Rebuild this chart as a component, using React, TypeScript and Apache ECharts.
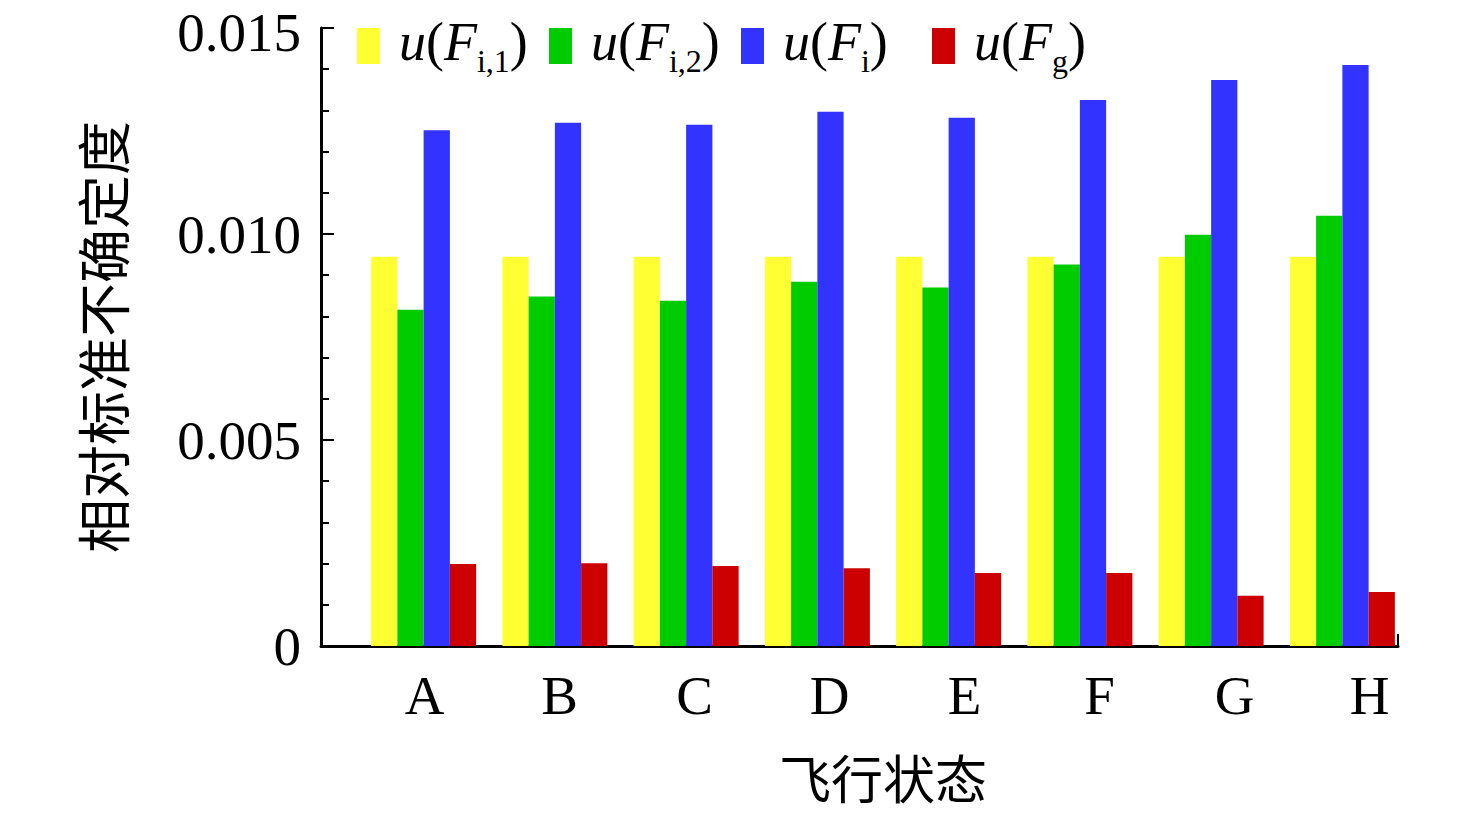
import React, { useEffect, useRef } from "react";
import * as echarts from "echarts";

const categories = ["A", "B", "C", "D", "E", "F", "G", "H"];
const uFi1 = [0.00945, 0.00945, 0.00945, 0.00945, 0.00945, 0.00945, 0.00945, 0.00945];
const uFi2 = [0.00816, 0.00848, 0.00838, 0.00884, 0.0087, 0.00926, 0.00998, 0.01044];
const uFi = [0.01252, 0.0127, 0.01265, 0.01297, 0.01282, 0.01325, 0.01374, 0.0141];
const uFg = [0.00199, 0.00201, 0.00194, 0.00189, 0.00177, 0.00177, 0.00122, 0.00131];
const yMin = 0;
const yMax = 0.015;
const yInterval = 0.005;

const seriesNames = ["u(Fi,1)", "u(Fi,2)", "u(Fi)", "u(Fg)"];
const seriesSubs = ["i,1", "i,2", "i", "g"];
const seriesColors = ["#FFFF33", "#00CC00", "#3333FF", "#CC0000"];
const seriesData = [uFi1, uFi2, uFi, uFg];

const SERIF = "'Times New Roman', 'Liberation Serif', 'DejaVu Serif', serif";
const CJK = "'Noto Sans CJK SC', 'Liberation Serif', sans-serif";

export default function App() {
  const ref = useRef<HTMLDivElement>(null);
  useEffect(() => {
    document.body.style.margin = "0";
    if (!ref.current) return;
    const chart = echarts.init(ref.current, null, { renderer: "svg" });
    const top = 28;
    const bottom = 168;
    const legendLefts = [357, 549, 741, 932];
    const rich = {
      gap: { width: 14 },
      i: { fontFamily: SERIF, fontStyle: "italic", fontSize: 54, color: "#000", padding: [0, 0, 8, 0] },
      n: { fontFamily: SERIF, fontSize: 54, color: "#000", padding: [0, 0, 8, 0] },
      s: { fontFamily: SERIF, fontSize: 32, color: "#000", verticalAlign: "bottom" },
    };
    const option: any = {
      animation: false,
      backgroundColor: "#fff",
      grid: [
        { left: 358, right: 68, top, bottom },
        { left: 321, right: 78, top, bottom },
        { left: 357, right: 39, top, bottom },
      ],
      legend: seriesNames.map((nm, k) => ({
        data: [nm],
        left: legendLefts[k],
        top: 15,
        itemWidth: 23,
        itemHeight: 36,
        icon: "rect",
        selectedMode: false,
        padding: 0,
        formatter: () => `{gap|}{i|u}{n|(}{i|F}{s|${seriesSubs[k]}}{n|)}`,
        textStyle: { rich },
      })),
      xAxis: [
        {
          type: "category",
          gridIndex: 0,
          data: categories,
          axisLine: { show: false },
          axisTick: { show: false },
          axisLabel: { show: false },
          name: "飞行状态",
          nameLocation: "middle",
          nameGap: 104,
          nameTextStyle: { fontFamily: CJK, fontSize: 52, color: "#000" },
        },
        {
          type: "value",
          gridIndex: 1,
          min: 0,
          max: 1,
          interval: 1,
          axisLine: { show: true, lineStyle: { color: "#000", width: 3 } },
          axisTick: { show: true, inside: true, length: 12, lineStyle: { color: "#000", width: 2 } },
          axisLabel: { show: false },
          splitLine: { show: false },
        },
        {
          type: "category",
          gridIndex: 2,
          data: categories,
          axisLine: { show: false },
          axisTick: { show: false },
          axisLabel: { show: true, fontFamily: SERIF, fontSize: 55, color: "#000", margin: 22 },
        },
      ],
      yAxis: [
        { type: "value", gridIndex: 0, min: yMin, max: yMax, show: false },
        {
          type: "value",
          gridIndex: 1,
          min: yMin,
          max: yMax,
          interval: yInterval,
          axisLine: { show: true, lineStyle: { color: "#000", width: 3 } },
          axisTick: { show: true, inside: true, length: 13, lineStyle: { color: "#000", width: 2 } },
          minorTick: { show: true, splitNumber: 5, length: 8, lineStyle: { color: "#000", width: 2 } },
          splitLine: { show: false },
          axisLabel: {
            fontFamily: SERIF,
            fontSize: 55,
            color: "#000",
            margin: 20,
            formatter: (v: number) =>
              v === 0 ? "0" : v >= yMax ? `{m|${v.toFixed(3)}}` : v.toFixed(3),
            rich: {
              m: { fontFamily: SERIF, fontSize: 55, color: "#000", padding: [8, 0, 0, 0] },
            },
          },
          name: "相对标准不确定度",
          nameLocation: "middle",
          nameRotate: 90,
          nameGap: 193,
          nameTextStyle: { fontFamily: CJK, fontSize: 54, color: "#000" },
        },
        { type: "value", gridIndex: 2, min: yMin, max: yMax, show: false },
      ],
      series: seriesNames.map((nm, k) => ({
        name: nm,
        type: "bar",
        xAxisIndex: 0,
        yAxisIndex: 0,
        data: seriesData[k],
        barWidth: 26.25,
        barGap: "0%",
        itemStyle: { color: seriesColors[k] },
      })),
    };
    chart.setOption(option);
    return () => chart.dispose();
  }, []);
  return <div ref={ref} style={{ width: 1476, height: 814 }} />;
}
